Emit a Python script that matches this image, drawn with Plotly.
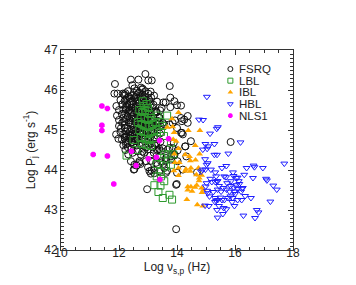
import plotly.graph_objects as go

# ---------------- data ----------------
fsrq = [
    # sparse / outer points
    (12.91, 46.40), (12.41, 46.26), (12.67, 46.26), (13.01, 46.24), (13.13, 46.24),
    (12.46, 46.12), (11.86, 46.15), (13.75, 46.10), (12.76, 46.06), (12.53, 46.04),
    (12.82, 46.03), (11.84, 45.91), (11.95, 45.91), (12.13, 45.91), (12.20, 45.86),
    (13.77, 45.81), (13.53, 45.69), (13.61, 45.69), (13.91, 45.72), (14.00, 45.62),
    (13.77, 45.57), (14.14, 45.61), (11.91, 45.60), (11.93, 45.36), (12.11, 45.64),
    (12.15, 45.51), (14.37, 45.35), (14.14, 45.30), (14.17, 45.22), (14.37, 45.18),
    (12.11, 45.18), (12.07, 45.05), (11.90, 44.89), (12.10, 44.76), (12.26, 44.84),
    (14.20, 44.89), (14.48, 44.72), (14.28, 44.59), (13.91, 44.39), (14.32, 44.34),
    (15.85, 44.70), (12.51, 44.01), (12.74, 44.15), (13.62, 43.93), (14.00, 43.93),
    (14.69, 43.94), (12.97, 43.52), (13.99, 43.65), (13.97, 42.52), (12.24, 44.64),
    (12.32, 44.39), (12.41, 44.22), (12.53, 44.13), (13.00, 44.07), (13.10, 43.91),
    (13.12, 43.99), (13.22, 44.00), (13.52, 44.15), (13.33, 44.13), (13.79, 44.34),
    (13.62, 44.30), (13.45, 44.47), (13.74, 44.55), (13.89, 44.68), (14.14, 44.93),
    (14.00, 45.05), (13.85, 45.18), (13.56, 45.14), (13.39, 45.30), (13.28, 45.47),
    (13.47, 45.55),
    (12.22, 44.84), (12.36, 44.80), (12.47, 44.70), (12.59, 44.72), (12.30, 44.68),
    (12.47, 44.43), (12.64, 44.47), (12.70, 44.22), (12.53, 44.02), (12.61, 44.11),
    (12.70, 45.14), (12.82, 45.26), (12.93, 45.18), (13.10, 45.22), (13.33, 45.14),
    (13.51, 45.18), (13.74, 45.14), (13.93, 45.24), (14.25, 45.26), (14.17, 44.93),
    (14.29, 44.59), (14.02, 44.49), (13.85, 44.55), (13.68, 44.51), (13.51, 44.54),
    (13.33, 44.51), (13.16, 44.57), (12.99, 44.51), (12.87, 44.43), (12.76, 44.38),
    (12.93, 44.22), (13.10, 44.23), (13.28, 44.18), (13.45, 44.22), (13.62, 44.24),
    (13.79, 44.26), (13.91, 44.37), (14.02, 44.22), (12.70, 44.18), (13.05, 43.97),
    (13.22, 43.92), (13.39, 43.97), (13.56, 44.05), (13.66, 43.98), (13.97, 43.63),
    (14.20, 44.01),
    (12.18, 45.89), (12.22, 45.75), (12.36, 45.64), (12.24, 45.51), (12.30, 45.35),
    (12.18, 45.22), (12.05, 45.75), (12.00, 45.50), (12.10, 45.40), (12.00, 45.25),
    (12.15, 45.30), (12.20, 45.05), (12.05, 44.95), (12.18, 44.90), (12.25, 45.60),
    (12.28, 45.80), (12.00, 45.10), (11.98, 44.78), (12.15, 44.62), (12.22, 44.50),
    # dense core
    (12.22, 45.92), (12.19, 45.72), (12.24, 45.55), (12.21, 45.41), (12.25, 45.27),
    (12.20, 45.12), (12.23, 44.97), (12.19, 44.81), (12.24, 44.70),
    (12.31, 45.97), (12.34, 45.83), (12.29, 45.63), (12.33, 45.47), (12.30, 45.34),
    (12.35, 45.19), (12.29, 45.03), (12.32, 44.89), (12.34, 44.73), (12.30, 44.57),
    (12.44, 45.86), (12.40, 45.71), (12.43, 45.56), (12.39, 45.43), (12.44, 45.29),
    (12.41, 45.16), (12.45, 45.01), (12.40, 44.86), (12.43, 44.69), (12.42, 44.52),
    (12.51, 45.93), (12.54, 45.79), (12.50, 45.65), (12.53, 45.49), (12.49, 45.37),
    (12.55, 45.21), (12.51, 45.07), (12.48, 44.95), (12.53, 44.79), (12.50, 44.64),
    (12.62, 45.98), (12.60, 45.87), (12.64, 45.73), (12.61, 45.59), (12.63, 45.45),
    (12.59, 45.31), (12.64, 45.17), (12.60, 45.03), (12.62, 44.89), (12.65, 44.75),
    (12.60, 44.61),
    (12.69, 45.94), (12.72, 45.81), (12.68, 45.67), (12.71, 45.53), (12.67, 45.39),
    (12.73, 45.25), (12.69, 45.09), (12.72, 44.97), (12.68, 44.83), (12.71, 44.67),
    (12.79, 46.01), (12.82, 45.88), (12.78, 45.75), (12.81, 45.61), (12.77, 45.47),
    (12.83, 45.33), (12.79, 45.19), (12.80, 45.05), (12.78, 44.91), (12.82, 44.77),
    (12.79, 44.62), (12.81, 44.46),
    (12.91, 45.97), (12.89, 45.83), (12.93, 45.69), (12.90, 45.55), (12.92, 45.41),
    (12.88, 45.27), (12.94, 45.13), (12.90, 44.99), (12.92, 44.85), (12.89, 44.71),
    (12.93, 44.56),
    (13.01, 45.91), (13.03, 45.77), (12.99, 45.63), (13.02, 45.49), (13.00, 45.35),
    (13.04, 45.21), (12.99, 45.07), (13.02, 44.93), (13.00, 44.79), (13.03, 44.63),
    (13.09, 45.96), (13.11, 45.81), (13.07, 45.61), (13.10, 45.43), (13.12, 45.29),
    (13.08, 45.13), (13.11, 44.99), (13.09, 44.83), (13.12, 44.67), (13.08, 44.36),
    (13.21, 45.86), (13.19, 45.63), (13.23, 45.46), (13.20, 45.29), (13.22, 45.11),
    (13.18, 44.96), (13.21, 44.79), (13.24, 44.61), (13.20, 44.43),
    (13.31, 45.71), (13.29, 45.44), (13.33, 45.23), (13.30, 45.06), (13.32, 44.86),
    (13.28, 44.66), (13.31, 44.48),
    (13.42, 45.49), (13.40, 45.31), (13.44, 45.09), (13.41, 44.91), (13.43, 44.71),
    (13.39, 44.53), (13.42, 44.35),
    # extra core density
    (12.37, 45.78), (12.36, 45.50), (12.38, 45.24), (12.36, 44.95),
    (12.47, 45.72), (12.46, 45.44), (12.47, 45.14), (12.46, 44.88),
    (12.57, 45.82), (12.56, 45.55), (12.57, 45.27), (12.56, 44.98),
    (12.66, 45.60), (12.65, 45.34), (12.66, 45.04), (12.65, 44.78),
    (12.75, 45.83), (12.74, 45.55), (12.75, 45.26), (12.74, 44.98),
    (12.85, 45.78), (12.86, 45.50), (12.84, 45.22), (12.86, 44.94),
    (12.96, 45.74), (12.95, 45.46), (12.97, 45.18), (12.95, 44.90),
    (13.06, 45.70), (13.05, 45.42), (13.06, 45.15), (13.05, 44.86),
    (13.15, 45.55), (13.16, 45.22), (13.14, 44.90),
]

lbl = [
    (12.82, 45.72), (12.85, 45.60), (12.95, 45.65), (12.70, 45.50), (12.80, 45.45),
    (12.90, 45.50), (13.00, 45.55), (13.05, 45.40), (12.75, 45.30), (12.88, 45.30),
    (13.00, 45.25), (13.12, 45.30), (12.65, 45.20), (12.78, 45.15), (12.90, 45.10),
    (13.05, 45.10), (13.18, 45.15), (13.25, 45.20), (13.33, 45.36), (12.70, 45.00),
    (12.85, 44.95), (13.00, 44.90), (13.15, 44.95), (13.30, 45.00), (12.75, 44.80),
    (12.90, 44.78), (13.05, 44.75), (13.20, 44.80), (12.80, 44.65), (12.95, 44.62),
    (13.10, 44.60), (13.40, 45.20), (13.50, 45.10), (13.45, 44.95), (13.66, 45.36),
    (13.55, 44.85),
    (12.26, 44.36), (13.79, 44.68), (13.87, 44.39), (13.70, 44.39), (13.56, 44.39),
    (13.45, 44.30), (13.30, 44.15), (13.62, 44.09), (13.79, 44.13), (13.43, 43.95),
    (13.30, 43.84), (13.45, 43.84), (13.56, 43.72), (13.22, 43.62), (13.43, 43.61),
    (13.36, 43.45), (13.51, 43.30), (13.74, 43.38), (13.83, 43.26), (12.50, 44.75),
    (12.60, 44.50),
]

ibl = [
    (14.05, 45.44), (13.83, 45.28), (13.67, 45.07), (13.85, 45.08), (13.90, 44.94),
    (14.39, 44.99), (14.79, 44.99), (13.87, 44.76), (13.97, 44.72), (14.05, 44.54),
    (14.63, 44.61), (14.78, 44.40), (13.91, 44.40), (14.28, 44.38), (14.43, 44.34),
    (13.93, 44.19), (14.08, 44.19), (14.46, 44.23), (14.64, 44.25), (14.05, 44.05),
    (14.31, 44.02), (14.48, 44.05), (14.46, 43.97), (14.28, 43.97), (14.74, 44.05),
    (13.89, 43.98), (14.05, 43.86), (14.67, 43.88), (14.77, 43.80), (14.85, 43.87),
    (14.76, 43.73), (14.37, 43.58), (14.48, 43.58), (14.52, 43.47), (14.62, 43.57),
    (14.68, 43.62), (14.85, 43.55), (14.91, 43.50), (14.86, 43.44), (14.37, 43.50),
    (14.34, 43.26), (14.70, 43.13), (14.89, 43.10),
]

hbl = [
    (15.03, 45.83), (14.76, 45.26), (14.90, 45.25), (15.41, 45.07),
    (15.37, 45.03), (15.14, 44.91), (14.98, 44.65), (15.08, 44.59), (15.29, 44.65),
    (14.89, 44.51), (15.04, 44.53), (16.19, 44.69), (15.77, 44.41), (15.29, 44.38),
    (15.38, 44.38), (14.97, 44.27), (15.06, 44.17), (15.02, 44.13), (17.70, 44.16),
    (16.64, 44.11), (16.67, 44.07), (16.96, 44.05), (14.83, 43.96), (14.89, 44.01),
    (14.98, 44.01), (15.17, 44.01), (15.32, 43.94), (15.35, 43.84), (15.38, 43.72),
    (15.63, 43.84), (15.69, 43.82), (15.93, 43.94), (16.04, 43.80), (16.09, 43.81),
    (16.32, 43.88), (16.62, 43.80), (17.07, 43.78), (17.10, 43.74), (15.02, 43.67),
    (15.32, 43.70), (15.40, 43.72), (15.73, 43.67), (15.86, 43.72), (16.13, 43.72),
    (16.15, 43.65), (16.27, 43.55), (16.21, 43.46), (15.40, 43.51), (15.52, 43.46),
    (15.71, 43.51), (15.81, 43.46), (15.96, 43.56), (15.98, 43.46), (16.09, 43.53),
    (16.23, 43.53), (17.32, 43.61), (17.44, 43.51), (15.06, 43.42), (15.12, 43.34),
    (15.31, 43.30), (15.40, 43.25), (15.50, 43.31), (15.55, 43.25), (15.35, 43.23),
    (15.31, 43.20), (15.63, 43.25), (15.75, 43.30), (15.84, 43.34), (15.92, 43.30),
    (16.00, 43.40), (16.09, 43.25), (16.23, 43.25), (16.55, 43.30), (17.22, 43.21),
    (14.97, 43.11), (15.38, 43.00), (15.61, 43.05), (15.70, 43.02), (15.98, 43.10),
    (16.29, 42.86), (16.75, 43.00), (16.81, 42.94), (16.69, 42.80), (15.40, 42.81),
    (15.58, 42.90), (15.04, 43.48), (14.99, 43.59),
    (15.45, 43.60), (15.60, 43.55), (15.85, 43.60), (15.90, 43.20), (16.05, 43.62),
    (15.25, 43.45), (15.15, 43.78), (15.45, 43.10), (16.35, 43.35), (16.40, 44.05),
    (15.55, 44.05), (15.70, 44.10), (15.20, 43.70), (15.10, 43.10), (15.95, 43.85),
]

nls1 = [
    (11.41, 45.60), (11.60, 45.54), (11.41, 45.12), (11.41, 44.99), (11.11, 44.39),
    (11.60, 44.35), (11.82, 43.65), (12.43, 44.47), (12.59, 44.11), (13.01, 44.28),
    (13.29, 44.32), (13.40, 44.74), (13.71, 44.78), (13.41, 43.76),
]

x_ticks = [10, 12, 14, 16, 18]
y_ticks = [42, 43, 44, 45, 46, 47]
legend_names = ["FSRQ", "LBL", "IBL", "HBL", "NLS1"]

# ---------------- styles ----------------
FONT = "Liberation Sans, Arial, Helvetica, sans-serif"
TXT = "#222222"
styles = {
    "FSRQ": dict(symbol="circle-open", size=7, color="#111111", line=dict(width=1)),
    "LBL": dict(symbol="square-open", size=7, color="#2e9a2e", line=dict(width=1)),
    "IBL": dict(symbol="triangle-up", size=6, color="#ffa500", line=dict(width=0)),
    "HBL": dict(symbol="triangle-down-open", size=6, color="#1f1fff", line=dict(width=1)),
    "NLS1": dict(symbol="octagon", size=6, color="#ff00ff", line=dict(width=0)),
}
series = {"FSRQ": fsrq, "LBL": lbl, "IBL": ibl, "HBL": hbl, "NLS1": nls1}

fig = go.Figure()
for name in legend_names:
    pts = series[name]
    fig.add_trace(go.Scatter(
        x=[p[0] for p in pts], y=[p[1] for p in pts], mode="markers", name=name,
        marker=styles[name], showlegend=False))

# hand-made legend (marker close to its label, as in the reference)
leg_mx, leg_tx, leg_y0, leg_dy = 0.73, 0.758, 0.905, 0.0583
for i, name in enumerate(legend_names):
    yy = leg_y0 - i * leg_dy
    m = dict(styles[name])
    m["size"] = 5
    fig.add_trace(go.Scatter(
        x=[leg_mx], y=[yy], xaxis="x2", yaxis="y2", mode="markers",
        marker=m, showlegend=False, hoverinfo="skip"))
    fig.add_annotation(x=leg_tx, y=yy, xref="paper", yref="paper", text=name,
                       showarrow=False, xanchor="left", yanchor="middle",
                       font=dict(family=FONT, size=11.5, color=TXT))

axis_common = dict(
    showline=True, linecolor="#333333", linewidth=1, mirror="allticks",
    ticks="inside", ticklen=5, tickcolor="#333333", tickwidth=1,
    showgrid=False, zeroline=False,
    tickfont=dict(family=FONT, size=12, color=TXT),
)

fig.update_layout(
    width=356, height=285,
    margin=dict(l=53, r=71, t=42, b=43),
    paper_bgcolor="white", plot_bgcolor="white",
    font=dict(family=FONT, size=11, color=TXT),
    showlegend=False,
    xaxis=dict(range=[10, 18], tickvals=x_ticks, ticklabelstandoff=-8,
               minor=dict(dtick=0.5, ticks="inside", ticklen=3, tickcolor="#333333"),
               title=dict(text="Log ν<sub>s,p</sub> (Hz)", standoff=0,
                          font=dict(family=FONT, size=12, color=TXT)),
               **axis_common),
    yaxis=dict(range=[42, 47], tickvals=y_ticks,
               minor=dict(dtick=0.1, ticks="inside", ticklen=3, tickcolor="#333333"),
               title=dict(text="Log P<sub>j</sub> (erg s<sup>-1</sup>)", standoff=6,
                          font=dict(family=FONT, size=12, color=TXT)),
               **axis_common),
    xaxis2=dict(overlaying="x", range=[0, 1], visible=False),
    yaxis2=dict(overlaying="y", range=[0, 1], visible=False),
)

fig.write_html("out.html")
